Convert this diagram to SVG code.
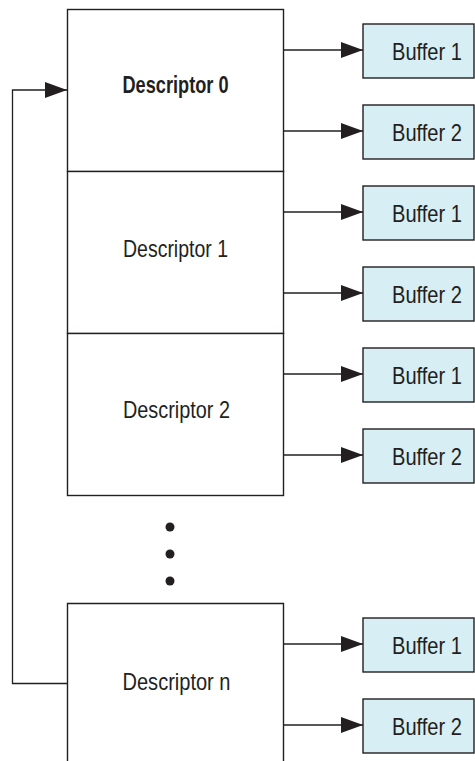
<svg xmlns="http://www.w3.org/2000/svg" width="475" height="761" viewBox="0 0 475 761">
<defs>
<style>
.desc{fill:#fff;stroke:#231f20;stroke-width:1.4}
.buf{fill:#d7eef4;stroke:#231f20;stroke-width:1.4}
.ln{fill:none;stroke:#231f20;stroke-width:1.3}
.t{font-family:"Liberation Sans",Arial,sans-serif;font-size:24px;fill:#231f20}
.b{font-weight:bold}
</style>
<marker id="ah" markerWidth="22" markerHeight="16" refX="22" refY="8" orient="auto" markerUnits="userSpaceOnUse">
<path d="M0,0 L22,8 L0,16 Z" fill="#231f20"/>
</marker>
</defs>
<rect width="475" height="761" fill="#fff"/>

<g id="connectors">
<path class="ln" d="M283.5,50 H363" marker-end="url(#ah)"/>
<path class="ln" d="M283.5,131 H363" marker-end="url(#ah)"/>
<path class="ln" d="M283.5,212 H363" marker-end="url(#ah)"/>
<path class="ln" d="M283.5,293 H363" marker-end="url(#ah)"/>
<path class="ln" d="M283.5,374 H363" marker-end="url(#ah)"/>
<path class="ln" d="M283.5,455 H363" marker-end="url(#ah)"/>
<path class="ln" d="M283.5,644 H363" marker-end="url(#ah)"/>
<path class="ln" d="M283.5,725 H363" marker-end="url(#ah)"/>
<path class="ln" d="M67.5,683.5 H12.5 V90 H67" marker-end="url(#ah)"/>
</g>

<g id="descriptor0">
<rect class="desc" x="67.5" y="9.5" width="216" height="162"/>
<text class="t b" x="122.5" y="92.5" textLength="106" lengthAdjust="spacingAndGlyphs">Descriptor 0</text>
</g>
<g id="descriptor1">
<rect class="desc" x="67.5" y="171.5" width="216" height="162"/>
<text class="t" x="123" y="256.5" textLength="105" lengthAdjust="spacingAndGlyphs">Descriptor 1</text>
</g>
<g id="descriptor2">
<rect class="desc" x="67.5" y="333.5" width="216" height="162"/>
<text class="t" x="123" y="418" textLength="107" lengthAdjust="spacingAndGlyphs">Descriptor 2</text>
</g>
<g id="ellipsis">
<circle cx="170" cy="527" r="4.5" fill="#231f20"/>
<circle cx="170" cy="554" r="4.5" fill="#231f20"/>
<circle cx="170" cy="581" r="4.5" fill="#231f20"/>
</g>
<g id="descriptorn">
<path class="desc" d="M67.5,765 V603.5 H283.5 V765"/>
<text class="t" x="122.5" y="689.5" textLength="108" lengthAdjust="spacingAndGlyphs">Descriptor n</text>
</g>

<g id="buf0a"><rect class="buf" x="363" y="24" width="111" height="54"/><text class="t" x="392" y="60" textLength="70" lengthAdjust="spacingAndGlyphs">Buffer 1</text></g>
<g id="buf0b"><rect class="buf" x="363" y="105" width="111" height="54"/><text class="t" x="392" y="141" textLength="70" lengthAdjust="spacingAndGlyphs">Buffer 2</text></g>
<g id="buf1a"><rect class="buf" x="363" y="186" width="111" height="54"/><text class="t" x="392" y="222" textLength="70" lengthAdjust="spacingAndGlyphs">Buffer 1</text></g>
<g id="buf1b"><rect class="buf" x="363" y="267" width="111" height="54"/><text class="t" x="392" y="303" textLength="70" lengthAdjust="spacingAndGlyphs">Buffer 2</text></g>
<g id="buf2a"><rect class="buf" x="363" y="348" width="111" height="54"/><text class="t" x="392" y="384" textLength="70" lengthAdjust="spacingAndGlyphs">Buffer 1</text></g>
<g id="buf2b"><rect class="buf" x="363" y="429" width="111" height="54"/><text class="t" x="392" y="465" textLength="70" lengthAdjust="spacingAndGlyphs">Buffer 2</text></g>
<g id="bufna"><rect class="buf" x="363" y="618" width="111" height="54"/><text class="t" x="392" y="654" textLength="70" lengthAdjust="spacingAndGlyphs">Buffer 1</text></g>
<g id="bufnb"><rect class="buf" x="363" y="699" width="111" height="54"/><text class="t" x="392" y="735" textLength="70" lengthAdjust="spacingAndGlyphs">Buffer 2</text></g>
</svg>
